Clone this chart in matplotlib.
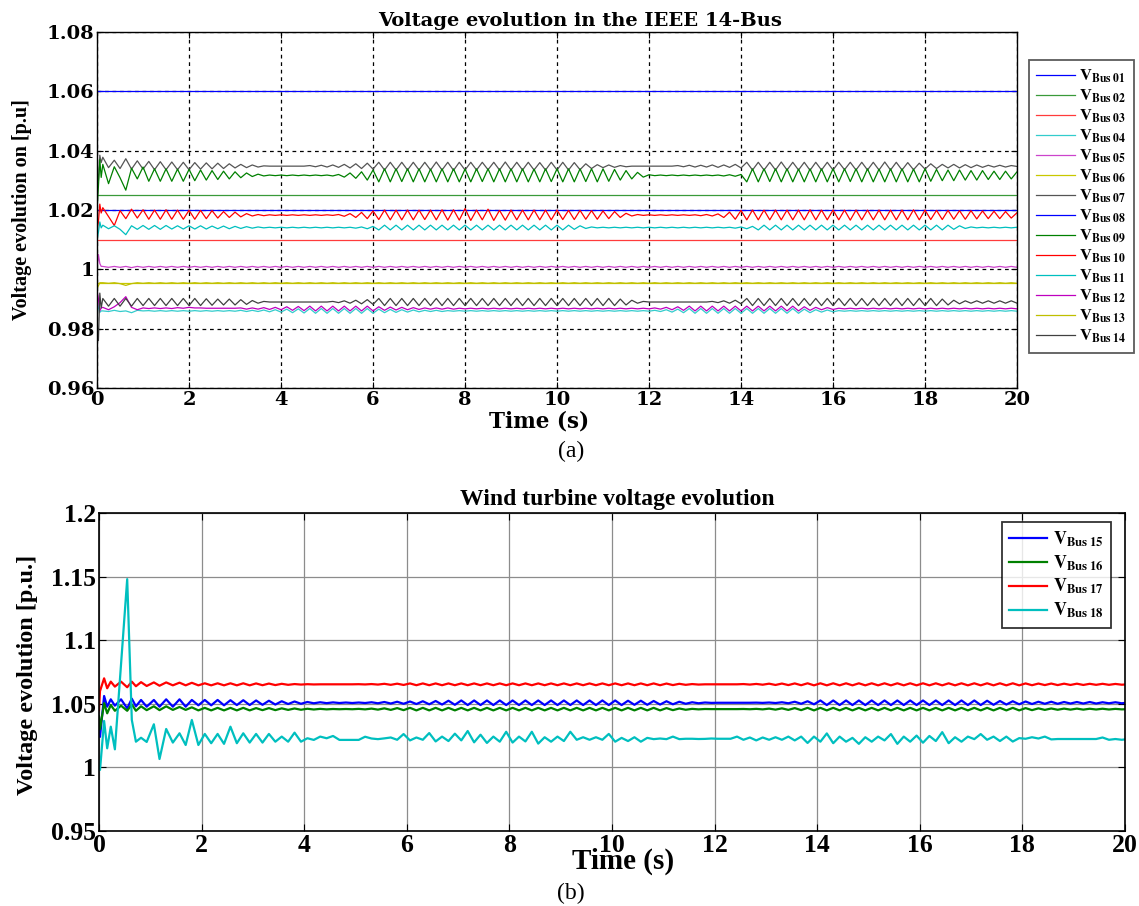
import numpy as np
import matplotlib
matplotlib.use("Agg")
import matplotlib.pyplot as plt

# ===== DATA =====
# Time axis (s)
T_SPAN = [0.0, 20.0]
X_TICKS = [0, 2, 4, 6, 8, 10, 12, 14, 16, 18, 20]

# --- (a) IEEE 14-bus ---------------------------------------------------------
# Samples: a short head (HEAD_T) then one sample every STEP s from STEP to 20 s.
# Oscillating buses are given as centre level + deviations in 1e-4 p.u.
HEAD_T = [0.0, 0.03, 0.06, 0.09]
STEP = 0.125

LEVEL_BUS01 = 1.06
LEVEL_BUS02 = 1.025
LEVEL_BUS03 = 1.01
LEVEL_BUS06 = 0.9955
LEVEL_BUS08 = 1.02

CENTER_BUS07 = 1.0348
HEAD_BUS07 = [1.033, 1.030, 1.0385, 1.0360]
DEV_BUS07 = [
    30, -5, 20, -8, 25, -10, 18, -10,
    16, -12, 15, -12, 14, -12, 13, -12,
    12, -10, 11, -9, 10, -8, 8, -6,
    6, -5, 4, -3, 1, 0, 0, 0,
    0, 0, 0, 0, 2, -2, 3, -3,
    4, -4, 6, -6, 8, -8, 10, -10,
    13, -13, 13, -13, 13, -13, 13, -13,
    13, -13, 14, -13, 13, -14, 13, -13,
    13, -13, 13, -12, 13, -13, 14, -13,
    13, -13, 13, -13, 12, -13, 13, -13,
    13, -13, 12, -12, 8, -8, 5, -5,
    4, -4, 2, -2, 0, 0, 0, 0,
    0, 0, 0, 0, 2, -2, 3, -3,
    3, -3, 4, -4, 4, -4, 6, -6,
    13, -13, 13, -13, 13, -13, 14, -13,
    13, -13, 13, -14, 13, -13, 13, -13,
    13, -12, 13, -13, 13, -13, 13, -13,
    14, -13, 13, -13, 12, -12, 10, -10,
    8, -8, 6, -6, 6, -6, 5, -5,
    4, -4, 3, -3, 3, -3, 2, -1,
]

CENTER_BUS09 = 1.0317
HEAD_BUS09 = [1.020, 1.028, 1.037, 1.031]
DEV_BUS09 = [
    37, -28, 29, -8, -50, 24, -12, 28,
    -20, 22, -20, 22, -20, 21, -20, 20,
    -18, 18, -16, 16, -14, 14, -12, 12,
    -8, 8, -4, 4, -2, 1, -1, 1,
    -1, 1, -1, 1, -1, 1, -1, 1,
    -2, 3, -6, 8, -10, 12, -16, 18,
    -22, 22, -22, 22, -21, 22, -22, 22,
    -22, 21, -22, 22, -22, 22, -22, 21,
    -22, 22, -21, 22, -22, 22, -22, 22,
    -22, 22, -22, 21, -22, 22, -21, 22,
    -22, 22, -22, 22, -21, 22, -22, 22,
    -20, 20, -16, 16, -12, 10, -6, 2,
    -1, 1, -1, 1, -1, 1, -1, 1,
    -1, 1, -1, 1, -2, 2, -3, 3,
    -22, 22, -22, 22, -21, 22, -22, 22,
    -22, 21, -22, 22, -22, 22, -22, 22,
    -22, 22, -21, 22, -22, 22, -22, 21,
    -22, 22, -22, 22, -22, 21, -22, 22,
    -20, 20, -18, 18, -18, 18, -16, 16,
    -16, 16, -14, 14, -14, 14, -12, 12,
]

CENTER_BUS10 = 1.0183
HEAD_BUS10 = [1.013, 1.016, 1.022, 1.019]
DEV_BUS10 = [
    25, -5, -35, 15, -12, 20, -10, 18,
    -14, 17, -14, 18, -14, 17, -14, 16,
    -14, 16, -12, 15, -10, 12, -8, 10,
    -6, 5, -3, 2, -2, 1, -1, 1,
    -1, 1, -1, 1, -1, 1, -1, 1,
    -1, 2, -4, 5, -8, 9, -12, 14,
    -15, 17, -16, 17, -16, 17, -16, 17,
    -15, 17, -16, 18, -17, 18, -17, 22,
    -18, 17, -16, 20, -18, 16, -17, 17,
    -16, 17, -16, 17, -16, 17, -16, 17,
    -15, 16, -15, 16, -14, 15, -14, 14,
    -12, 12, -8, 6, -3, 2, -1, 1,
    -1, 1, -1, 1, -1, 1, -1, 1,
    -2, 2, -3, 4, -8, 10, -14, 16,
    -16, 17, -16, 17, -16, 17, -16, 17,
    -16, 17, -16, 18, -16, 17, -16, 17,
    -16, 17, -17, 17, -16, 17, -16, 17,
    -16, 17, -16, 17, -16, 18, -16, 17,
    -15, 16, -15, 16, -14, 15, -14, 15,
    -13, 14, -12, 13, -12, 12, -10, 8,
]

CENTER_BUS11 = 1.0141
HEAD_BUS11 = [1.010, 1.0125, 1.016, 1.014]
DEV_BUS11 = [
    8, -4, 6, -6, -24, 6, -6, 7,
    -6, 7, -6, 7, -5, 6, -5, 6,
    -5, 6, -5, 5, -4, 5, -4, 4,
    -3, 3, -2, 2, -1, 1, -1, 1,
    -1, 1, -1, 1, -1, 1, -1, 1,
    -1, 1, -1, 1, -2, 2, -4, 4,
    -8, 8, -8, 8, -8, 8, -8, 8,
    -8, 8, -8, 8, -8, 8, -8, 8,
    -8, 8, -8, 8, -8, 8, -8, 8,
    -8, 8, -8, 8, -8, 8, -8, 8,
    -8, 8, -6, 6, -3, 2, -1, 1,
    -1, 1, -1, 1, -1, 1, -1, 1,
    -1, 1, -1, 1, -1, 1, -1, 1,
    -1, 1, -1, 1, -1, 1, -2, 2,
    -4, 4, -8, 8, -8, 8, -8, 8,
    -8, 8, -8, 8, -8, 8, -8, 8,
    -8, 8, -8, 8, -8, 8, -8, 8,
    -8, 8, -8, 8, -8, 8, -8, 8,
    -8, 8, -8, 8, -6, 6, -3, 2,
    -1, 1, -1, 1, -1, 1, -1, 1,
]

CENTER_BUS14 = 0.9890
HEAD_BUS14 = [0.982, 0.976, 0.992, 0.987]
DEV_BUS14 = [
    12, -14, 12, -14, 12, -14, 12, -12,
    12, -12, 12, -12, 12, -12, 12, -12,
    12, -12, 11, -11, 10, -10, 10, -10,
    8, -8, 5, -4, 2, 0, 0, 0,
    0, 0, 0, 0, 0, 0, 0, 0,
    2, -2, 4, -4, 6, -6, 8, -8,
    12, -12, 12, -12, 12, -12, 12, -12,
    12, -12, 12, -12, 12, -12, 12, -12,
    12, -12, 12, -12, 12, -12, 12, -12,
    12, -12, 12, -12, 12, -12, 12, -12,
    12, -12, 12, -12, 12, -12, 12, -12,
    12, -12, 10, -10, 6, -4, 2, 0,
    0, 0, 0, 0, 0, 0, 0, 0,
    0, 0, 2, -2, 4, -4, 6, -6,
    12, -12, 12, -12, 12, -12, 12, -12,
    12, -12, 12, -12, 12, -12, 12, -12,
    12, -12, 12, -12, 12, -12, 12, -12,
    12, -12, 12, -12, 12, -12, 12, -12,
    12, -12, 10, -10, 6, -6, 4, -4,
    4, -4, 4, -4, 4, -4, 4, -4,
]

CENTER_BUS12 = 0.9868
HEAD_BUS12 = [0.993, 0.990, 0.986, 0.987]
DEV_BUS12 = [
    4, -4, 6, 20, 40, 4, -4, 2,
    0, 2, 0, 2, 0, 3, 1, 4,
    2, 2, 1, 1, 1, 1, 1, 1,
    2, -2, 2, -2, 3, -3, 4, -4,
    6, -6, 7, -7, 8, -8, 8, -8,
    8, -8, 8, -8, 8, -8, 8, -8,
    6, -6, 5, -5, 4, -4, 3, -3,
    2, -2, 2, -2, 2, -2, 1, -1,
    1, -1, 1, -1, 1, -1, 1, -1,
    1, -1, 1, -1, 1, -1, 1, -1,
    1, -1, 1, -1, 1, -1, 1, -1,
    1, -1, 1, -1, 1, -1, 1, -1,
    2, -2, 4, -4, 6, -6, 8, -8,
    8, -8, 8, -8, 8, -8, 8, -8,
    8, -8, 8, -8, 8, -8, 8, -8,
    8, -8, 6, -6, 4, -4, 3, -3,
    1, -1, 1, -1, 1, -1, 1, -1,
    1, -1, 1, -1, 1, -1, 1, -1,
    1, -1, 1, -1, 1, -1, 1, -1,
    1, -1, 1, -1, 1, -1, 1, -1,
]

CENTER_BUS04 = 0.9860
HEAD_BUS04 = [0.990, 0.987, 0.9855, 0.986]
DEV_BUS04 = [
    0, -2, 2, -2, 0, -6, 2, 0,
    1, -1, 1, -1, 1, -1, 1, -1,
    1, -1, 1, -1, 1, -1, 1, -1,
    2, -2, 2, -2, 3, -3, 4, -4,
    6, -6, 7, -7, 8, -8, 8, -8,
    8, -8, 8, -8, 8, -8, 8, -8,
    6, -6, 5, -5, 4, -4, 3, -3,
    2, -2, 2, -2, 1, -1, 1, -1,
    1, -1, 1, -1, 1, -1, 1, -1,
    1, -1, 1, -1, 1, -1, 1, -1,
    1, -1, 1, -1, 1, -1, 1, -1,
    1, -1, 1, -1, 1, -1, 1, -1,
    2, -2, 4, -4, 6, -6, 8, -8,
    8, -8, 8, -8, 8, -8, 8, -8,
    8, -8, 8, -8, 8, -8, 8, -8,
    8, -8, 6, -6, 4, -4, 3, -3,
    1, -1, 1, -1, 1, -1, 1, -1,
    1, -1, 1, -1, 1, -1, 1, -1,
    1, -1, 1, -1, 1, -1, 1, -1,
    1, -1, 1, -1, 1, -1, 1, -1,
]

CENTER_BUS05 = 1.0008
HEAD_BUS05 = [1.000, 1.005, 1.002, 1.001]
DEV_BUS05 = [
    2, -1, 2, -1, 2, -2, 2, -1,
    2, -1, 2, -1, 2, -1, 2, -1,
    2, -1, 2, -1, 2, -1, 2, -1,
    2, -1, 2, -1, 2, -1, 2, -1,
    2, -1, 2, -1, 2, -1, 2, -1,
    2, -1, 2, -1, 2, -1, 2, -1,
    2, -1, 2, -1, 2, -1, 2, -1,
    2, -1, 2, -1, 2, -1, 2, -1,
    2, -1, 2, -1, 2, -1, 2, -1,
    2, -1, 2, -1, 2, -1, 2, -1,
    2, -1, 2, -1, 2, -1, 2, -1,
    2, -1, 2, -1, 2, -1, 2, -1,
    2, -1, 2, -1, 2, -1, 2, -1,
    2, -1, 2, -1, 2, -1, 2, -1,
    2, -1, 2, -1, 2, -1, 2, -1,
    2, -1, 2, -1, 2, -1, 2, -1,
    2, -1, 2, -1, 2, -1, 2, -1,
    2, -1, 2, -1, 2, -1, 2, -1,
    2, -1, 2, -1, 2, -1, 2, -1,
    2, -1, 2, -1, 2, -1, 2, -1,
]

CENTER_BUS13 = 0.9954
HEAD_BUS13 = [0.9935, 0.9945, 0.9955, 0.9955]
DEV_BUS13 = [
    1, -1, 1, -2, -8, -2, 1, -1,
    1, -1, 1, -1, 1, -1, 1, -1,
    1, -1, 1, -1, 1, -1, 1, -1,
    1, -1, 1, -1, 1, -1, 1, -1,
    1, -1, 1, -1, 1, -1, 1, -1,
    1, -1, 1, -1, 1, -1, 1, -1,
    1, -1, 1, -1, 1, -1, 1, -1,
    1, -1, 1, -1, 1, -1, 1, -1,
    1, -1, 1, -1, 1, -1, 1, -1,
    1, -1, 1, -1, 1, -1, 1, -1,
    1, -1, 1, -1, 1, -1, 1, -1,
    1, -1, 1, -1, 1, -1, 1, -1,
    1, -1, 1, -1, 1, -1, 1, -1,
    1, -1, 1, -1, 1, -1, 1, -1,
    1, -1, 1, -1, 1, -1, 1, -1,
    1, -1, 1, -1, 1, -1, 1, -1,
    1, -1, 1, -1, 1, -1, 1, -1,
    1, -1, 1, -1, 1, -1, 1, -1,
    1, -1, 1, -1, 1, -1, 1, -1,
    1, -1, 1, -1, 1, -1, 1, -1,
]

TOP_YTICKS = [0.96, 0.98, 1.00, 1.02, 1.04, 1.06, 1.08]
TOP_YTICKLABELS = ["0.96", "0.98", "1", "1.02", "1.04", "1.06", "1.08"]

# --- (b) wind turbine buses --------------------------------------------------
# Head at irregular times, then one sample every STEP s from B_MAIN_T0.
B_HEAD_T = [0.0, 0.02, 0.1, 0.16, 0.23, 0.31, 0.43, 0.55, 0.64, 0.72,
            0.82, 0.93, 1.07, 1.18, 1.31, 1.44, 1.57, 1.69, 1.81]
B_MAIN_T0 = 1.9375

HEAD_BUS15 = [1.040, 1.024, 1.0561, 1.0477, 1.0535, 1.0485, 1.0535, 1.0464,
              1.054, 1.048, 1.053, 1.0477, 1.053, 1.0477, 1.0535, 1.0477,
              1.0535, 1.0477, 1.053]
CENTER_BUS15 = 1.0508
DEV_BUS15 = [
    -20, 22, -20, 22, -20, 20, -18, 20, -18,
    18, -16, 16, -14, 12, -10, 10, -8,
    6, -4, 4, -3, 3, -2, 2, -2,
    2, -2, 4, -4, 6, -6, 8, -8,
    10, -10, 12, -12, 14, -14, 16, -16,
    18, -18, 18, -18, 18, -18, 18, -18,
    18, -18, 18, -18, 18, -18, 18, -18,
    18, -18, 18, -18, 18, -18, 18, -18,
    18, -18, 16, -16, 16, -16, 14, -14,
    12, -12, 8, -8, 4, -4, 2, -1,
    0, 0, 0, 0, 0, 0, 1, -1,
    2, -2, 4, -4, 8, -8, 12, -12,
    18, -18, 18, -18, 18, -18, 18, -18,
    18, -18, 18, -18, 18, -18, 18, -18,
    18, -18, 18, -18, 18, -18, 18, -18,
    18, -18, 16, -16, 14, -14, 12, -12,
    10, -10, 8, -8, 8, -8, 6, -6,
    6, -6, 6, -6, 4, -4, 4, -4, 2,
]

HEAD_BUS16 = [1.040, 1.030, 1.0505, 1.0425, 1.049, 1.0445, 1.0485, 1.0445,
              1.0495, 1.0445, 1.048, 1.045, 1.048, 1.045, 1.048, 1.0452,
              1.0475, 1.0452, 1.0472]
CENTER_BUS16 = 1.0458
DEV_BUS16 = [
    -10, 10, -10, 10, -10, 10, -10, 10, -10,
    8, -8, 8, -8, 6, -6, 5, -5,
    3, -3, 2, -2, 1, -1, 1, -1,
    2, -2, 4, -4, 6, -6, 8, -8,
    10, -10, 10, -10, 10, -10, 10, -10,
    10, -10, 10, -10, 10, -10, 10, -10,
    10, -10, 10, -10, 10, -10, 10, -10,
    10, -10, 10, -10, 10, -10, 10, -10,
    10, -10, 10, -10, 10, -10, 10, -10,
    8, -8, 5, -5, 2, -2, 1, 0,
    0, 0, 0, 0, 1, -1, 2, -2,
    4, -4, 6, -6, 8, -8, 10, -10,
    10, -10, 10, -10, 10, -10, 10, -10,
    10, -10, 10, -10, 10, -10, 10, -10,
    10, -10, 10, -10, 10, -10, 10, -10,
    10, -10, 10, -10, 10, -10, 10, -10,
    8, -8, 6, -6, 5, -5, 4, -4,
    4, -4, 3, -3, 3, -3, 2, -2, 0,
]

HEAD_BUS17 = [1.045, 1.060, 1.070, 1.0622, 1.0674, 1.0635, 1.0674, 1.063,
              1.0674, 1.0638, 1.067, 1.064, 1.0668, 1.0642, 1.0668, 1.0645,
              1.0666, 1.0645, 1.0665]
CENTER_BUS17 = 1.0653
DEV_BUS17 = [
    -8, 8, -8, 8, -8, 8, -8, 8, -8,
    7, -7, 6, -6, 4, -4, 2, -2,
    1, -1, 0, 0, 0, 0, 0, 0,
    1, -1, 2, -2, 4, -4, 5, -5,
    7, -7, 7, -7, 7, -7, 7, -7,
    7, -7, 7, -7, 7, -7, 7, -7,
    7, -7, 7, -7, 7, -7, 7, -7,
    7, -7, 7, -7, 7, -7, 7, -7,
    7, -7, 7, -7, 7, -7, 7, -7,
    6, -6, 4, -4, 2, -2, 0, 0,
    0, 0, 0, 0, 2, -2, 3, -3,
    5, -5, 6, -6, 7, -7, 8, -8,
    8, -8, 8, -8, 8, -8, 8, -8,
    8, -8, 8, -8, 8, -8, 8, -8,
    8, -8, 8, -8, 8, -8, 8, -8,
    8, -8, 8, -8, 8, -8, 8, -8,
    7, -7, 6, -6, 6, -6, 5, -5,
    5, -5, 4, -4, 4, -4, 3, -3, 0,
]

HEAD_BUS18 = [1.000, 0.998, 1.0365, 1.015, 1.032, 1.0142, 1.081, 1.148,
              1.0373, 1.0202, 1.0233, 1.020, 1.0339, 1.0066, 1.0302, 1.0195,
              1.0268, 1.0176, 1.0373]
CENTER_BUS18 = 1.0222
DEV_BUS18 = [
    -46, 41, -32, 41, -37, 98, -32, 46, -27,
    41, -27, 41, -20, 20, -20, 51, -20,
    7, -6, 20, 7, 25, -6, -6, -6,
    -6, 19, 5, 0, 6, 13, -5, 40,
    -10, 13, -5, 48, -18, 20, -15, 43,
    -10, 64, -25, 35, -30, 20, -20, 58,
    -27, 20, -18, 58, -35, 15, -20, 20,
    -15, 58, -5, 15, -5, 15, -5, 41,
    -20, 10, -15, 15, -20, 10, 0, 5,
    0, 20, 0, 3, 3, 1, 2, 5,
    3, 3, 3, 20, -5, 13, -10, 13,
    -5, 15, -5, 20, -10, 20, -30, 20,
    -20, 45, -32, 20, -20, 10, -37, 15,
    -20, 20, -10, 40, -37, 20, -20, 28,
    -28, 25, -15, 55, -32, 15, -20, 20,
    0, 40, -5, 20, -15, 20, -19, 8,
    3, 15, 5, 20, -2, 1, 1, 1,
    1, 1, 1, 1, 13, -5, 1, -5, 1,
]

BOT_YTICKS = [0.95, 1.00, 1.05, 1.10, 1.15, 1.20]
BOT_YTICKLABELS = ["0.95", "1", "1.05", "1.1", "1.15", "1.2"]


# ===== HELPERS =====
def top_series(head, center, dev):
    t = np.concatenate([HEAD_T, STEP * np.arange(1, len(dev) + 1)])
    v = np.concatenate([head, center + np.asarray(dev) * 1e-4])
    return t, v


def bot_series(head, center, dev):
    t = np.concatenate([B_HEAD_T, B_MAIN_T0 + STEP * np.arange(len(dev))])
    v = np.concatenate([head, center + np.asarray(dev) * 1e-4])
    return t, v


def vlabel(num):
    return r"$\mathbf{V}_{\mathbf{Bus\ %s}}$" % num


plt.rcParams["font.family"] = ["Liberation Serif", "DejaVu Serif"]
plt.rcParams["mathtext.fontset"] = "stix"

fig = plt.figure(figsize=(11.39, 9.06), dpi=100)

# ===== (a) IEEE 14-bus =====
ax = fig.add_axes([0.0852, 0.5717, 0.8077, 0.3929])
tick_font = dict(family="DejaVu Serif", weight="bold", size=14)

lw = 0.9
ax.plot(T_SPAN, [LEVEL_BUS01] * 2, color="#0000ff", lw=lw, label=vlabel("01"))
ax.plot(T_SPAN, [LEVEL_BUS02] * 2, color="#3a9a3a", lw=lw, label=vlabel("02"))
ax.plot(T_SPAN, [LEVEL_BUS03] * 2, color="#ff3b3b", lw=lw, label=vlabel("03"))
ax.plot(*top_series(HEAD_BUS04, CENTER_BUS04, DEV_BUS04), color="#33cccc", lw=lw, label=vlabel("04"))
ax.plot(*top_series(HEAD_BUS05, CENTER_BUS05, DEV_BUS05), color="#cc44cc", lw=lw, label=vlabel("05"))
ax.plot(T_SPAN, [LEVEL_BUS06] * 2, color="#c8c800", lw=lw, label=vlabel("06"))
ax.plot(*top_series(HEAD_BUS07, CENTER_BUS07, DEV_BUS07), color="#555555", lw=lw, label=vlabel("07"))
ax.plot(T_SPAN, [LEVEL_BUS08] * 2, color="#0000ff", lw=lw, label=vlabel("08"))
ax.plot(*top_series(HEAD_BUS09, CENTER_BUS09, DEV_BUS09), color="#008000", lw=lw, label=vlabel("09"))
ax.plot(*top_series(HEAD_BUS10, CENTER_BUS10, DEV_BUS10), color="#ff0000", lw=lw, label=vlabel("10"))
ax.plot(*top_series(HEAD_BUS11, CENTER_BUS11, DEV_BUS11), color="#00bfbf", lw=lw, label=vlabel("11"))
ax.plot(*top_series(HEAD_BUS12, CENTER_BUS12, DEV_BUS12), color="#bf00bf", lw=lw, label=vlabel("12"))
ax.plot(*top_series(HEAD_BUS13, CENTER_BUS13, DEV_BUS13), color="#bfbf00", lw=lw, label=vlabel("13"))
ax.plot(*top_series(HEAD_BUS14, CENTER_BUS14, DEV_BUS14), color="#404040", lw=lw, label=vlabel("14"))

ax.set_xlim(0, 20)
ax.set_ylim(0.96, 1.08)
ax.set_xticks(X_TICKS)
ax.set_xticklabels([str(x) for x in X_TICKS], **tick_font)
ax.set_yticks(TOP_YTICKS)
ax.set_yticklabels(TOP_YTICKLABELS, **tick_font)
ax.tick_params(direction="in", length=4, pad=2, top=True, right=True)
ax.grid(True, color="black", ls=(0, (3, 3)), lw=0.9)
for sp in ax.spines.values():
    sp.set_linewidth(1.0)

ax.set_title("Voltage evolution in the IEEE 14-Bus", family="DejaVu Serif",
             weight="bold", size=14, x=0.525, y=1.017, pad=0)
ax.set_xlabel("Time (s)", family="DejaVu Serif", weight="bold", size=15.5, va="center")
ax.xaxis.set_label_coords(0.48, -0.095)
ax.set_ylabel("Voltage evolution on [p.u]", weight="bold", size=14.5, va="center")
ax.yaxis.set_label_coords(-0.0815, 0.5)

leg = ax.legend(loc="upper left", bbox_to_anchor=(0.9034, 0.9338),
                bbox_transform=fig.transFigure, fontsize=12, frameon=True,
                fancybox=False, handlelength=2.3, handletextpad=0.25,
                labelspacing=0.16, borderpad=0.45, borderaxespad=0)
leg.get_frame().set_edgecolor("#333333")
leg.get_frame().set_linewidth(1.3)

fig.text(0.5013, 0.5022, "(a)", ha="center", va="center", size=17)

# ===== (b) wind turbine =====
bx = fig.add_axes([0.0869, 0.0828, 0.9008, 0.3510])
big_font = dict(weight="bold", size=18.5)

blw = 1.6
bx.plot(*bot_series(HEAD_BUS15, CENTER_BUS15, DEV_BUS15), color="#0000ff", lw=blw, label=vlabel("15"))
bx.plot(*bot_series(HEAD_BUS16, CENTER_BUS16, DEV_BUS16), color="#008000", lw=blw, label=vlabel("16"))
bx.plot(*bot_series(HEAD_BUS17, CENTER_BUS17, DEV_BUS17), color="#ff0000", lw=blw, label=vlabel("17"))
bx.plot(*bot_series(HEAD_BUS18, CENTER_BUS18, DEV_BUS18), color="#00bfbf", lw=blw, label=vlabel("18"))

bx.set_xlim(0, 20)
bx.set_ylim(0.95, 1.2)
bx.set_xticks(X_TICKS)
bx.set_xticklabels([str(x) for x in X_TICKS], **big_font)
bx.set_yticks(BOT_YTICKS)
bx.set_yticklabels(BOT_YTICKLABELS, **big_font)
bx.tick_params(direction="in", length=5, pad=2, top=True, right=True)
bx.grid(True, color="#8c8c8c", ls="-", lw=0.9)
for sp in bx.spines.values():
    sp.set_linewidth(1.2)

bx.set_title("Wind turbine voltage evolution", weight="bold", size=17,
             x=0.505, y=1.025, pad=0)
bx.set_xlabel("Time (s)", weight="bold", size=21, va="center")
bx.xaxis.set_label_coords(0.511, -0.097)
bx.set_ylabel("Voltage evolution [p.u.]", weight="bold", size=17.5, va="center")
bx.yaxis.set_label_coords(-0.070, 0.49)

leg2 = bx.legend(loc="upper right", bbox_to_anchor=(0.9754, 0.4238),
                 bbox_transform=fig.transFigure, fontsize=13, frameon=True,
                 fancybox=False, handlelength=2.1, handletextpad=0.3,
                 labelspacing=0.25, borderpad=0.4, borderaxespad=0)
leg2.get_frame().set_edgecolor("black")
leg2.get_frame().set_linewidth(1.3)

fig.text(0.5013, 0.0143, "(b)", ha="center", va="center", size=17)

fig.savefig("out.png", dpi=100)
